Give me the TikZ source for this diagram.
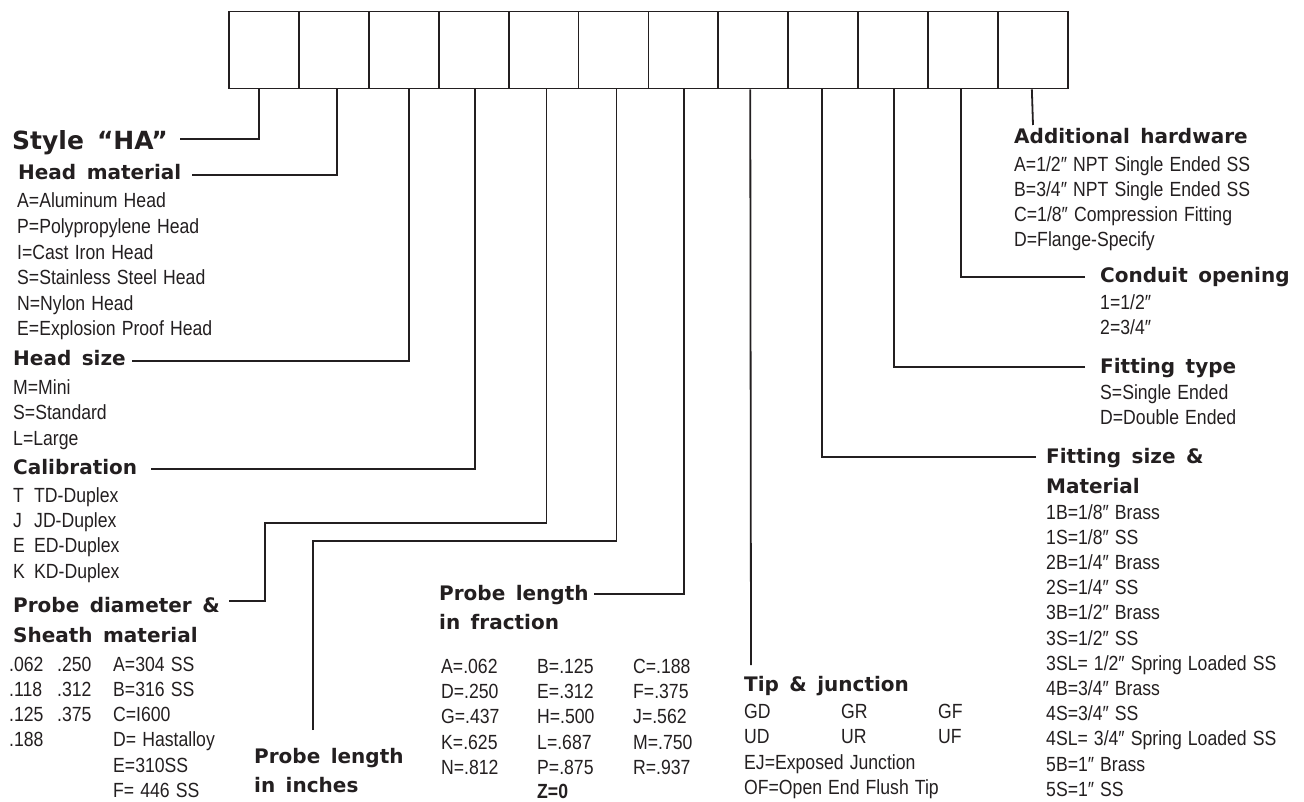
\documentclass[tikz,border=0pt]{standalone}
\usepackage{fontspec}
\newfontfamily\headfont{DejaVu Sans}[WordSpace=1.5]
\newfontfamily\bodyfont{Liberation Sans}[FakeStretch=0.86,WordSpace=1.25]
\definecolor{ink}{HTML}{231F20}
\tikzset{
  codebox/.style={draw=ink, line width=1.8pt, minimum width=69.9pt, minimum height=77pt, inner sep=0pt},
  lead/.style={draw=ink, line width=1.8pt},
  head/.style={anchor=base west, inner sep=0pt, text=ink, font=\headfont\bfseries\fontsize{20}{24}\selectfont},
  bighead/.style={head, font=\headfont\bfseries\fontsize{25}{30}\selectfont},
  item/.style={anchor=base west, inner sep=0pt, text=ink, font=\bodyfont\fontsize{20.5}{24}\selectfont},
  bolditem/.style={item, font=\bodyfont\bfseries\fontsize{20.5}{24}\selectfont},
}
\begin{document}
\begin{tikzpicture}[x=1pt,y=-1pt]
\useasboundingbox (0,0) rectangle (1304,802);

% row of twelve code boxes
\foreach \i in {1,...,12}
  \node[codebox] (b\i) at ({229+69.9*(\i-0.5)},50) {};

% ---- left column ----
\node[bighead] (h1) at (12,150) {Style “HA”};
\coordinate (c1) at (180,139);
\draw[lead] (c1) -| ([xshift=-5pt]b1.south);

\node[head] (h2) at (18,180) {Head material};
\coordinate (c2) at (192,175);
\draw[lead] (c2) -| ([xshift=3pt]b2.south);
\foreach \t [count=\k from 0] in {A=Aluminum Head,P=Polypropylene Head,I=Cast Iron Head,S=Stainless Steel Head,N=Nylon Head,E=Explosion Proof Head}
  \node[item] (hm\k) at (17,{208+25.6*\k}) {\t};

\node[head] (h3) at (13,366) {Head size};
\coordinate (c3) at (132,361);
\draw[lead] (c3) -| ([xshift=5pt]b3.south);
\foreach \t [count=\k from 0] in {M=Mini,S=Standard,L=Large}
  \node[item] (hs\k) at (13,{394+25.5*\k}) {\t};

\node[head] (h4) at (13,474) {Calibration};
\coordinate (c4) at (151,469);
\draw[lead] (c4) -| ([xshift=1pt]b4.south);
\foreach \c/\t [count=\k from 0] in {T/TD-Duplex,J/JD-Duplex,E/ED-Duplex,K/KD-Duplex}{
  \node[item] (ca\k) at (13,{502+25.4*\k}) {\c};
  \node[item] (cb\k) at (34,{502+25.4*\k}) {\t};
}

\node[head] (h5) at (13,612) {Probe diameter \&};
\node[head] (h5b) at (13,642) {Sheath material};
\coordinate (c5) at (229,601);
\coordinate (k5) at (265,523);
\draw[lead] (c5) -| (k5) -| ([xshift=3pt]b5.south);
\foreach \a/\b/\m [count=\k from 0] in {.062/.250/A=304 SS,.118/.312/B=316 SS,.125/.375/C=I600,.188//D= Hastalloy,//E=310SS,//F= 446 SS}{
  \node[item] (pa\k) at (9,{671+25.3*\k}) {\a};
  \node[item] (pb\k) at (57,{671+25.3*\k}) {\b};
  \node[item] (pm\k) at (113,{671+25.3*\k}) {\m};
}

\node[head] (h6) at (254,763) {Probe length};
\node[head] (h6b) at (254,792) {in inches};
\coordinate (c6) at (313,730);
\coordinate (k6) at (313,541);
\draw[lead] (c6) -- (k6) -| ([xshift=3pt]b6.south);

% ---- middle ----
\node[head] (h7) at (439,600) {Probe length};
\node[head] (h7b) at (439,629) {in fraction};
\coordinate (c7) at (594,594);
\draw[lead] (c7) -| ([xshift=1pt]b7.south);
\foreach \a/\b/\c [count=\k from 0] in {A=.062/B=.125/C=.188,D=.250/E=.312/F=.375,G=.437/H=.500/J=.562,K=.625/L=.687/M=.750,N=.812/P=.875/R=.937}{
  \node[item] (fa\k) at (441,{673+25.4*\k}) {\a};
  \node[item] (fb\k) at (537,{673+25.4*\k}) {\b};
  \node[item] (fc\k) at (633,{673+25.4*\k}) {\c};
}
\node[bolditem] (fz) at (537,798) {Z=0};

\node[head] (h8) at (744,691) {Tip \& junction};
\coordinate (c8) at (751,665);
\draw[lead] (c8) -- ([xshift=-3pt]b8.south);
\foreach \a/\b/\c [count=\k from 0] in {GD/GR/GF,UD/UR/UF}{
  \node[item] (ta\k) at (744,{718+25.3*\k}) {\a};
  \node[item] (tb\k) at (841,{718+25.3*\k}) {\b};
  \node[item] (tc\k) at (938,{718+25.3*\k}) {\c};
}
\node[item] (tej) at (744,769) {EJ=Exposed Junction};
\node[item] (tof) at (744,794) {OF=Open End Flush Tip};

% ---- right column ----
\node[head] (h12) at (1014,144) {Additional hardware};
\coordinate (c12) at (1033,125);
\draw[lead] (c12) -- ([xshift=-1pt]b12.south);
\foreach \t [count=\k from 0] in {A=1/2″ NPT Single Ended SS,B=3/4″ NPT Single Ended SS,C=1/8″ Compression Fitting,D=Flange-Specify}
  \node[item] (ah\k) at (1014,{172+25*\k}) {\t};

\node[head] (h11) at (1100,283) {Conduit opening};
\coordinate (c11) at (1085,277);
\draw[lead] (c11) -| ([xshift=-2pt]b11.south);
\foreach \t [count=\k from 0] in {1=1/2″,2=3/4″}
  \node[item] (co\k) at (1100,{309.5+25*\k}) {\t};

\node[head] (h10) at (1100,373) {Fitting type};
\coordinate (c10) at (1085,367);
\draw[lead] (c10) -| ([xshift=1pt]b10.south);
\foreach \t [count=\k from 0] in {S=Single Ended,D=Double Ended}
  \node[item] (ft\k) at (1100,{399+25.5*\k}) {\t};

\node[head] (h9) at (1046,463) {Fitting size \&};
\node[head] (h9b) at (1046,493) {Material};
\coordinate (c9) at (1036,457);
\draw[lead] (c9) -| ([xshift=-1pt]b9.south);
\foreach \t [count=\k from 0] in {1B=1/8″ Brass,1S=1/8″ SS,2B=1/4″ Brass,2S=1/4″ SS,3B=1/2″ Brass,3S=1/2″ SS,3SL= 1/2″ Spring Loaded SS,4B=3/4″ Brass,4S=3/4″ SS,4SL= 3/4″ Spring Loaded SS,5B=1″ Brass,5S=1″ SS}
  \node[item] (fs\k) at (1046,{519+25.2*\k}) {\t};
\end{tikzpicture}
\end{document}
